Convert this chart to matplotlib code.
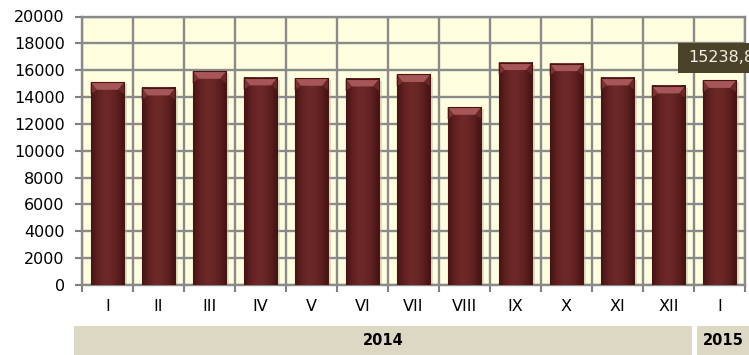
import numpy as np
import matplotlib.pyplot as plt
from matplotlib.patches import Rectangle, Polygon
from matplotlib.colors import LinearSegmentedColormap

plt.rcParams['font.family'] = ['DejaVu Sans']

months = ['I', 'II', 'III', 'IV', 'V', 'VI', 'VII', 'VIII', 'IX', 'X', 'XI', 'XII', 'I']
values = [15100, 14680, 15920, 15430, 15400, 15350, 15680, 13240,
          16570, 16490, 15430, 14830, 15238.8]
years = ['2014', '2015']
shown_label = '15238,8'

W, H = 749, 355
fig = plt.figure(figsize=(W / 100, H / 100), dpi=100)
ax = fig.add_axes([82 / W, 1 - 285 / H, 663 / W, (285 - 16.5) / H])
ax.set_facecolor('#ffffe0')

n = len(values)
x = np.arange(n)
ax.set_xlim(-0.5, n - 0.5)
ax.set_ylim(0, 20000)

# grid on category boundaries and every 2000
ax.set_yticks(np.arange(0, 20001, 2000))
ax.set_xticks(np.arange(-0.5, n, 1.0), minor=False)
ax.set_xticklabels([])
ax.set_xticks(x, minor=True)
ax.set_xticklabels(months, minor=True)
ax.tick_params(axis='x', which='minor', length=0, pad=10, labelsize=11.5)
ax.tick_params(axis='x', which='major', length=5, width=1.5, color='#808080')
ax.tick_params(axis='y', length=5, width=1.5, color='#808080', labelsize=11.5, pad=7.5)
ax.grid(True, which='major', color='#8a8a8a', linewidth=1.7)
ax.set_axisbelow(True)
for s in ax.spines.values():
    s.set_color('#8a8a8a')
    s.set_linewidth(1.7)

# bars with a horizontal shading and a bevelled top
cmap = LinearSegmentedColormap.from_list(
    'bar', ['#461414', '#622121', '#6e2828', '#6a2626', '#5c1e1e', '#401111'])
grad = np.linspace(0, 1, 64).reshape(1, -1)
bw = 0.66
bevel_x = 0.12
bevel_y = 560
for xi, v in zip(x, values):
    x0, x1 = xi - bw / 2, xi + bw / 2
    # soft shadow
    ax.add_patch(Rectangle((x0 + 0.03, 0), bw + 0.03, v - 150,
                           color='#b8b8a0', alpha=0.45, lw=0, zorder=2))
    ax.imshow(grad, cmap=cmap, extent=(x0, x1, 0, v), aspect='auto',
              interpolation='bilinear', zorder=3)
    ax.add_patch(Polygon([(x0, v), (x1, v), (x1 - bevel_x, v - bevel_y),
                          (x0 + bevel_x, v - bevel_y)],
                         closed=True, color='#a65656', lw=0, zorder=4))
    ax.add_patch(Polygon([(x0, v), (x0 + bevel_x, v - bevel_y), (x0, v - bevel_y * 1.6)],
                         closed=True, color='#7a3333', lw=0, zorder=4))
    ax.add_patch(Polygon([(x1, v), (x1 - bevel_x, v - bevel_y), (x1, v - bevel_y * 1.6)],
                         closed=True, color='#6a2828', lw=0, zorder=4))
    ax.add_patch(Rectangle((x0, 0), bw, v, fill=False, ec='#4a1414', lw=0.8, zorder=5))

# value tag on the last bar
tag_x = x[-1] - 0.82
ax.add_patch(Rectangle((tag_x, values[-1] + 550), 2, 2240, color='#4a4229',
                       lw=0, zorder=10, clip_on=False))
ax.text(tag_x + 0.2, values[-1] + 1670, shown_label, fontsize=11.5, color='#f2f0e4',
        va='center', ha='left', zorder=11, clip_on=False)

# year bands under the axis
band_h = 29 / H
starts = [74, 697]
ends = [692, 749]
for yr, a, b in zip(years, starts, ends):
    fig.add_artist(Rectangle((a / W, 0), (b - a) / W, band_h,
                             transform=fig.transFigure, color='#ddd8c3', lw=0))
    fig.text((a + b) / 2 / W, band_h / 2, yr, ha='center', va='center',
             fontsize=10.5, fontweight='bold', color='black')

fig.savefig('out.png', dpi=100)
